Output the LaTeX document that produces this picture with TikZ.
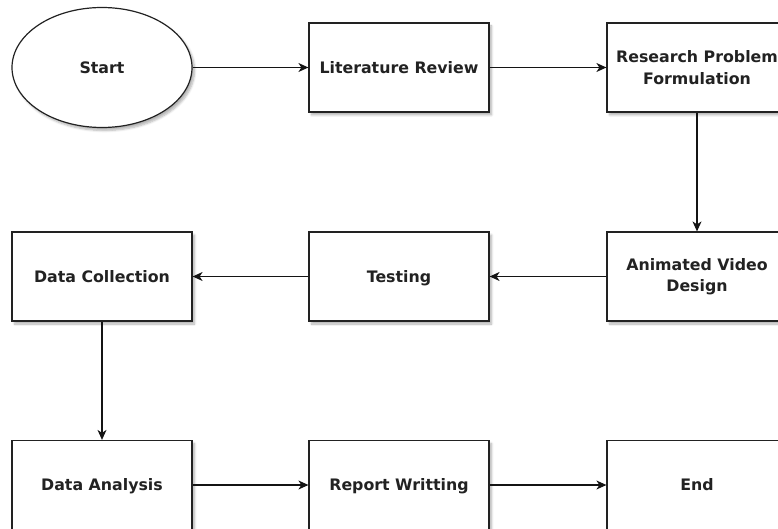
\documentclass[tikz,border=0pt]{standalone}
\usepackage{fontspec}
\setmainfont{DejaVu Sans}
\usepackage{tikz}
\usetikzlibrary{arrows.meta,shapes.geometric,shadows.blur}
\definecolor{ink}{RGB}{34,34,34}
\definecolor{flowline}{RGB}{20,20,20}

\begin{document}
\begin{tikzpicture}[x=1pt,y=-1pt,
  stepbox/.style={draw=ink,line width=1.2pt,fill=white,minimum width=180pt,minimum height=89pt,inner sep=0pt,align=center,
    font=\fontsize{15.8}{21.5}\selectfont\bfseries,text=ink,text height=12pt,text depth=0.5pt,
    blur shadow={shadow xshift=2.5pt,shadow yshift=-3pt,shadow opacity=30,shadow blur steps=6}},
  twoline/.style={text height=,text depth=},
  terminal/.style={stepbox,ellipse,minimum width=180pt,minimum height=120pt},
  flow/.style={-{Stealth[length=10pt,width=9pt,inset=3pt]},line width=1.2pt,color=flowline}]
  \useasboundingbox (0,0) rectangle (778,529);

  % first row
  \node[terminal] (start) at (102,67.5) {Start};
  \node[stepbox] (litrev) at (399,67.5) {Literature Review};
  \node[stepbox,twoline] (problem) at (697,67.5) {Research Problem\\Formulation};
  % second row
  \node[stepbox,twoline] (video) at (697,276.5) {Animated Video\\Design};
  \node[stepbox] (testing) at (399,276.5) {Testing};
  \node[stepbox] (collect) at (102,276.5) {Data Collection};
  % third row
  \node[stepbox] (analysis) at (102,485) {Data Analysis};
  \node[stepbox] (report) at (399,485) {Report Writting};
  \node[stepbox] (finish) at (697,485) {End};

  \draw[flow] (start.east) -- (litrev.west);
  \draw[flow] (litrev.east) -- (problem.west);
  \draw[flow] (problem.south) -- (video.north);
  \draw[flow] (video.west) -- (testing.east);
  \draw[flow] (testing.west) -- (collect.east);
  \draw[flow] (collect.south) -- (analysis.north);
  \draw[flow] (analysis.east) -- (report.west);
  \draw[flow] (report.east) -- (finish.west);
\end{tikzpicture}
\end{document}
